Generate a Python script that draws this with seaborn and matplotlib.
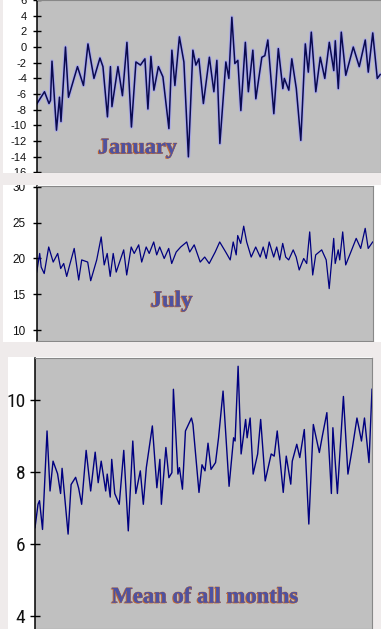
import matplotlib
matplotlib.use('Agg')
import matplotlib.pyplot as plt
import matplotlib.patheffects as pe
from matplotlib.patches import Rectangle
from matplotlib import font_manager
import seaborn as sns
import pandas as pd

# ---------------- data ----------------
jan_years = [1780, 1785, 1788, 1789, 1790, 1793, 1795, 1796, 1799, 1801, 1807, 1811, 1814, 1818,
             1822, 1824, 1827, 1829, 1830, 1834, 1837, 1840, 1843, 1846, 1849, 1852, 1854, 1856,
             1858, 1861, 1864, 1868, 1870, 1872, 1875, 1878, 1881, 1884, 1886, 1888, 1891, 1895,
             1898, 1900, 1902, 1906, 1908, 1910, 1912, 1914, 1916, 1919, 1921, 1924, 1926, 1930,
             1932, 1934, 1938, 1941, 1944, 1945, 1948, 1950, 1953, 1956, 1959, 1961, 1963, 1966,
             1969, 1972, 1975, 1978, 1979, 1981, 1983, 1986, 1991, 1995, 1999, 2001, 2004, 2007,
             2009]
jan_temps = [-7.2, -5.7, -7.2, -6.8, -1.8, -10.6, -6.4, -9.5, 0.0, -6.4, -2.5, -4.9, 0.4, -4.0,
             -1.4, -2.5, -8.9, -2.5, -7.6, -2.5, -6.2, 0.6, -10.2, -1.9, -2.3, -1.5, -7.9, -1.2,
             -5.5, -2.5, -3.8, -10.4, -0.4, -4.9, 1.3, -1.9, -14.0, -0.4, -2.3, -1.5, -7.2, -1.3,
             -5.7, -1.7, -12.3, -1.9, -4.0, 3.8, -2.1, -1.7, -8.1, 0.6, -5.7, -0.4, -6.6, -1.3,
             -1.1, 0.9, -8.5, -0.2, -5.3, -4.0, -5.5, -1.5, -5.3, -11.9, 0.4, -3.2, 1.9, -5.7,
             -1.3, -4.0, 0.6, -3.0, 0.8, -5.3, 1.9, -3.6, 0.0, -2.5, 0.9, -3.2, 1.8, -4.0,
             -3.5]

jul_years = [1780, 1782, 1783, 1785, 1788, 1791, 1794, 1796, 1798, 1800, 1802, 1805, 1808, 1810,
             1814, 1816, 1820, 1823, 1825, 1827, 1829, 1831, 1833, 1838, 1840, 1843, 1845, 1848,
             1850, 1853, 1855, 1858, 1860, 1862, 1865, 1868, 1870, 1873, 1876, 1880, 1882, 1885,
             1889, 1892, 1895, 1899, 1902, 1906, 1909, 1911, 1913, 1914, 1916, 1918, 1920, 1923,
             1926, 1929, 1931, 1933, 1935, 1938, 1940, 1942, 1944, 1946, 1948, 1951, 1953, 1955,
             1958, 1960, 1962, 1964, 1966, 1970, 1973, 1975, 1978, 1979, 1981, 1982, 1984, 1986,
             1990, 1993, 1996, 1999, 2001, 2004]
jul_temps = [18.1, 20.7, 18.8, 17.9, 21.6, 19.5, 20.7, 18.6, 19.3, 17.5, 19.1, 21.4, 17.0, 19.8,
             19.5, 16.9, 19.8, 23.0, 19.1, 20.7, 17.5, 20.7, 18.1, 21.2, 17.7, 21.6, 20.7, 21.9,
             19.5, 21.6, 20.7, 22.3, 20.5, 21.6, 20.0, 21.4, 19.3, 20.9, 21.6, 22.3, 20.9, 21.9,
             19.5, 20.2, 19.3, 20.9, 22.3, 20.9, 19.8, 22.3, 20.5, 23.2, 22.1, 24.5, 22.3, 20.2,
             21.6, 20.2, 21.6, 20.0, 22.3, 20.2, 21.6, 19.8, 22.1, 20.2, 19.8, 21.2, 20.2, 18.4,
             20.0, 19.3, 23.7, 17.7, 20.5, 21.2, 19.8, 15.8, 22.8, 19.3, 21.2, 19.8, 23.7, 19.1,
             21.2, 22.8, 21.4, 24.2, 21.4, 22.3]

mean_years = [1780, 1782, 1783, 1785, 1788, 1790, 1792, 1795, 1797, 1798, 1802, 1804, 1807, 1809,
              1811, 1814, 1817, 1820, 1822, 1824, 1827, 1828, 1830, 1831, 1833, 1836, 1839, 1842,
              1845, 1847, 1850, 1852, 1854, 1858, 1861, 1863, 1864, 1867, 1869, 1871, 1872, 1875,
              1876, 1878, 1880, 1884, 1885, 1889, 1891, 1893, 1895, 1897, 1900, 1902, 1905, 1909,
              1912, 1913, 1915, 1917, 1920, 1921, 1923, 1925, 1928, 1930, 1933, 1937, 1939, 1941,
              1945, 1947, 1950, 1951, 1954, 1956, 1959, 1962, 1965, 1969, 1971, 1974, 1977, 1978,
              1981, 1985, 1988, 1991, 1994, 1997, 1999, 2002, 2004]
mean_temps = [6.45, 7.1, 7.2, 6.4, 9.14, 7.47, 8.3, 7.95, 7.4, 8.1, 6.27, 7.65, 7.85, 7.55,
              7.1, 8.6, 7.47, 8.55, 7.7, 8.3, 7.47, 7.94, 7.3, 8.35, 7.4, 7.1, 8.6, 6.36,
              8.86, 7.4, 8.03, 7.1, 8.12, 9.28, 7.56, 8.35, 7.1, 8.68, 7.84, 7.98, 10.3, 7.94,
              8.12, 7.52, 9.14, 9.5, 9.32, 7.43, 8.2, 8.03, 8.8, 8.07, 8.26, 8.95, 10.25, 7.6,
              8.95, 8.86, 10.94, 8.5, 9.46, 8.95, 9.5, 7.94, 8.5, 9.46, 7.75, 8.5, 8.44, 9.14,
              7.43, 8.44, 7.66, 8.3, 8.77, 8.4, 9.18, 6.55, 9.32, 8.54, 9.0, 9.65, 7.4, 9.23,
              7.4, 10.1, 7.94, 8.68, 9.5, 8.86, 9.5, 8.26, 10.3]

jan_ticks = [-16, -14, -12, -10, -8, -6, -4, -2, 0, 2, 4, 6]
jul_ticks = [10, 15, 20, 25, 30]
mean_ticks = [4, 6, 8, 10]

labels = ["January", "July", "Mean of all months"]

# ---------------- figure ----------------
plt.rcParams['axes.unicode_minus'] = False
W, H = 381, 629
BAND = '#efebeb'
PLOT = '#c0c0c0'
LINE = '#000080'

fig = plt.figure(figsize=(W / 100, H / 100), dpi=100, facecolor=BAND)


def rect(x0, y0, x1, y1, color, z):
    fig.patches.append(Rectangle((x0 / W, 1 - y1 / H), (x1 - x0) / W, (y1 - y0) / H,
                                 transform=fig.transFigure, facecolor=color,
                                 edgecolor='none', zorder=z))


def axes_px(x0, y0, x1, y1):
    return fig.add_axes([x0 / W, 1 - y1 / H, (x1 - x0) / W, (y1 - y0) / H])


# white chart areas
rect(3, 0, 381, 172.7, 'white', -1)
rect(3, 185, 381, 342, 'white', -1)
rect(8, 357, 372, 629, 'white', -1)
# bands between pictures (cover label overflow)
rect(0, 172.7, 381, 185, BAND, 5)
rect(0, 342, 381, 357, BAND, 5)

small_font = ['Liberation Sans', 'DejaVu Sans']
installed = {f.name for f in font_manager.fontManager.ttflist}
narrow_choices = [n for n in ['Liberation Sans Narrow', 'Roboto Condensed', 'DejaVu Sans Condensed',
                              'Open Sans Condensed'] if n in installed]
if narrow_choices:
    narrow_font = [narrow_choices[0], 'DejaVu Sans']
    narrow_size = 14
else:
    narrow_font = ['Liberation Sans', 'DejaVu Sans']
    narrow_size = 13


def style(ax, ticks, ylim, xlim, font, size, tlen, pad):
    ax.set_facecolor(PLOT)
    ax.set_ylim(*ylim)
    ax.set_xlim(*xlim)
    ax.set_yticks(ticks)
    ax.set_yticklabels([str(t) for t in ticks], fontfamily=font, fontsize=size, color='#111111')
    ax.set_xticks([])
    ax.set_xlabel('')
    ax.set_ylabel('')
    ax.tick_params(axis='y', direction='inout', length=tlen, width=1.0, color='black', pad=pad)
    for s in ['top', 'right', 'bottom']:
        ax.spines[s].set_color('#888888')
        ax.spines[s].set_linewidth(0.8)
    ax.spines['left'].set_color('black')
    ax.spines['left'].set_linewidth(1.1)


# Panel 1: January
ax1 = axes_px(37, 0, 381, 172.5)
df1 = pd.DataFrame({'year': jan_years, 'temp': jan_temps})
sns.lineplot(data=df1, x='year', y='temp', ax=ax1, color='#0a0a50', linewidth=1.1,
             path_effects=[pe.Stroke(linewidth=2.6, foreground='#a9a9e6'), pe.Normal()])
style(ax1, jan_ticks, (-16, 6), (1780, 2009.5), small_font, 8, 5.5, 4.5)

# Panel 2: July
ax2 = axes_px(36.7, 186, 372.7, 341)
df2 = pd.DataFrame({'year': jul_years, 'temp': jul_temps})
sns.lineplot(data=df2, x='year', y='temp', ax=ax2, color=LINE, linewidth=0.9)
style(ax2, jul_ticks, (8.5, 30.1), (1780, 2004), small_font, 8.5, 5.5, 5.5)

# Panel 3: mean of all months
ax3 = axes_px(35, 358, 372, 629)
df3 = pd.DataFrame({'year': mean_years, 'temp': mean_temps})
sns.lineplot(data=df3, x='year', y='temp', ax=ax3, color=LINE, linewidth=1.0)
style(ax3, mean_ticks, (3.63, 11.17), (1780, 2004), narrow_font, narrow_size, 7, 3.5)

# labels in the plot areas
txt_effects = [pe.withSimplePatchShadow(offset=(-0.8, -0.5), shadow_rgbFace='#c8692e', alpha=1.0),
               pe.Stroke(linewidth=0.5, foreground='#b86a3e'), pe.Normal()]
label_pos = [(137.5, 153.3, 16), (171.7, 306.5, 16.5), (205, 602.7, 16.3)]
for text, (px, py, fs) in zip(labels, label_pos):
    fig.text(px / W, 1 - py / H, text, ha='center', va='baseline', fontsize=fs,
             fontweight='bold', fontfamily=['Liberation Serif', 'DejaVu Serif'],
             color='#4d52a2', path_effects=txt_effects, zorder=10)

fig.savefig('out.png', dpi=100, facecolor=fig.get_facecolor())
